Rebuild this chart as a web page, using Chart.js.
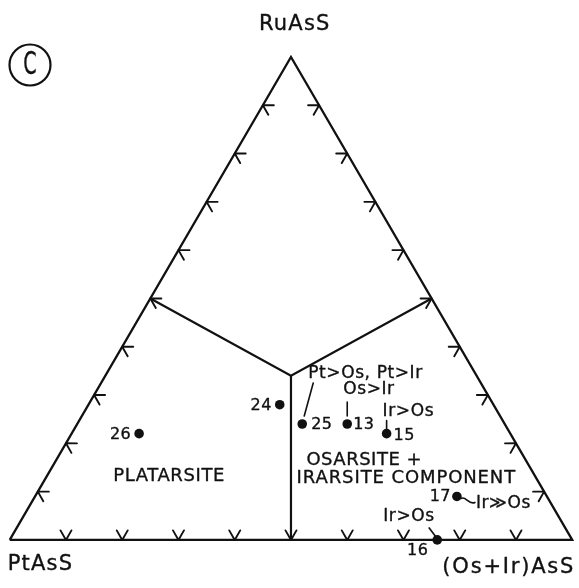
<!DOCTYPE html>
<html lang="en">
<head>
<meta charset="UTF-8">
<title>PtAsS - RuAsS - (Os+Ir)AsS</title>
<script src="https://cdn.jsdelivr.net/npm/chart.js"></script>
<style>
  html, body { margin: 0; padding: 0; background: #fff; }
  #wrap { width: 579px; height: 588px; position: relative; }
</style>
</head>
<body>
<div id="wrap"><canvas id="ternary"></canvas></div>
<script>
// compositions in mol.%  (PtAsS + RuAsS + (Os+Ir)AsS = 100)
const sampleIds = ['26', '24', '25', '13', '15', '17', '16'];
const ptAsS   = [66, 38, 36, 28, 22, 16, 24];
const ruAsS   = [22, 28, 24, 24, 22, 9, 0];
const osIrAsS = [12, 34, 40, 48, 56, 75, 76];
const sampleNotes = ['', '', 'Pt>Os, Pt>Ir', 'Os>Ir', 'Ir>Os', 'Ir\u226BOs', 'Ir>Os'];

const vertexNames = ['PtAsS', '(Os+Ir)AsS', 'RuAsS'];
const tickSteps = [10, 20, 30, 40, 50, 60, 70, 80, 90];
const fieldNames = ['PLATARSITE', 'OSARSITE +', 'IRARSITE COMPONENT'];
// field boundaries: from the 50 % point of each side to this junction
const junction = [33, 34, 33];

// ternary -> cartesian (base along x, RuAsS up)
const tern = (pt, ru, os) => ({ x: (os + ru / 2) / 100, y: ru / 100 });

const FONT = "'DejaVu Sans', sans-serif";
const INK = '#111';

const samplePoints = sampleIds.map((_, i) => tern(ptAsS[i], ruAsS[i], osIrAsS[i]));

const line = (data, width) => ({
  data, showLine: true, borderColor: INK, borderWidth: width,
  pointRadius: 0, tension: 0, fill: false, clip: false
});

const overlay = {
  id: 'overlay',
  afterDatasetsDraw(chart) {
    const { ctx, scales: { x, y } } = chart;
    const at = (pt, ru, os) => {
      const p = tern(pt, ru, os);
      return [x.getPixelForValue(p.x), y.getPixelForValue(p.y)];
    };
    // lettering is drawn a bit heavier than the plain font
    const text = (str, px, py, size, align, spacing) => {
      ctx.font = size + 'px ' + FONT;
      ctx.letterSpacing = (spacing || 0) + 'px';
      ctx.textAlign = align || 'left';
      ctx.textBaseline = 'middle';
      ctx.lineWidth = 0.35;
      ctx.fillText(str, px, py);
      ctx.strokeText(str, px, py);
    };
    const seg = (x1, y1, x2, y2) => {
      ctx.beginPath(); ctx.moveTo(x1, y1); ctx.lineTo(x2, y2); ctx.stroke();
    };

    ctx.save();
    ctx.strokeStyle = INK;
    ctx.fillStyle = INK;
    ctx.lineCap = 'round';
    ctx.lineJoin = 'round';

    // chevron ticks every 10 %, tip on the side, opening inward
    const [cx, cy] = at(100 / 3, 100 / 3, 100 / 3);
    const edges = [
      s => at(100 - s, 0, s),   // base
      s => at(100 - s, s, 0),   // left side
      s => at(0, s, 100 - s)    // right side
    ];
    edges.forEach(edge => {
      const [ax, ay] = edge(0), [bx, by] = edge(100);
      let nx = -(by - ay), ny = bx - ax;
      const len = Math.hypot(nx, ny);
      nx /= len; ny /= len;
      if ((cx - ax) * nx + (cy - ay) * ny < 0) { nx = -nx; ny = -ny; }
      tickSteps.forEach(s => {
        const [tx, ty] = edge(s);
        ctx.lineWidth = 1.9;
        ctx.beginPath();
        const arms = [Math.PI / 6, -Math.PI / 6].map(a => [
          tx + 11 * (nx * Math.cos(a) - ny * Math.sin(a)),
          ty + 11 * (nx * Math.sin(a) + ny * Math.cos(a))
        ]);
        ctx.moveTo(arms[0][0], arms[0][1]);
        ctx.lineTo(tx, ty);
        ctx.lineTo(arms[1][0], arms[1][1]);
        ctx.stroke();
      });
    });

    // corner names
    const [p0x, p0y] = at(100, 0, 0), [p1x, p1y] = at(0, 0, 100), [p2x, p2y] = at(0, 100, 0);
    text(vertexNames[0], p0x - 2, p0y + 25, 21, 'left', 1.2);
    text(vertexNames[1], p1x + 3, p1y + 28, 21, 'right', 1.8);
    text(vertexNames[2], p2x - 32, p2y - 32, 21, 'left', 1.2);

    // field names
    let [fx, fy] = at(75, 13.2, 11.8);
    text(fieldNames[0], fx, fy, 18, 'left', 0.6);
    [fx, fy] = at(39, 16.5, 44.5);
    text(fieldNames[1], fx, fy, 18, 'left', 0.5);
    [fx, fy] = at(42.6, 12.8, 44.6);
    text(fieldNames[2], fx, fy, 18, 'left', 0.9);

    // sample numbers and notes with leaders
    const pts = samplePoints.map(p => [x.getPixelForValue(p.x), y.getPixelForValue(p.y)]);
    const place = {
      '26': { num: [-8, 1, 'right'] },
      '24': { num: [-8, 1, 'right'] },
      '25': { num: [9, 1, 'left'], note: [6, -50], lead: [[11, -41], [2, -8]] },
      '13': { num: [6, 1, 'left'], note: [-4, -34], lead: [[0, -22], [0, -8]] },
      '15': { num: [7, 2, 'left'], note: [-4, -22], lead: [[0, -13], [0, -5]] },
      '17': { num: [-6, 0, 'right'], note: [19, 7] },
      '16': { num: [-9, 11, 'right'], note: [-54, -23], lead: [[-8, -12], [-2, -4]] }
    };
    sampleIds.forEach((id, i) => {
      const [px, py] = pts[i];
      const cfg = place[id];
      text(id, px + cfg.num[0], py + cfg.num[1], 16, cfg.num[2], 0.4);
      if (cfg.note) text(sampleNotes[i], px + cfg.note[0], py + cfg.note[1], 17, 'left', 0.6);
      ctx.lineWidth = 1.6;
      if (cfg.lead) seg(px + cfg.lead[0][0], py + cfg.lead[0][1], px + cfg.lead[1][0], py + cfg.lead[1][1]);
      if (id === '17') {
        ctx.beginPath();
        ctx.moveTo(px + 4, py + 2);
        ctx.bezierCurveTo(px + 9, py - 1, px + 12, py + 9, px + 18, py + 6);
        ctx.stroke();
      }
    });

    // panel letter
    ctx.lineWidth = 2.2;
    ctx.beginPath();
    ctx.arc(30, 65, 20.5, 0, Math.PI * 2);
    ctx.stroke();
    ctx.save();
    ctx.translate(30, 66);
    ctx.scale(0.6, 1);
    text('C', 0, 0, 32, 'center', 0);
    ctx.restore();

    ctx.restore();
  }
};

new Chart(document.getElementById('ternary'), {
  type: 'scatter',
  data: {
    datasets: [
      line([tern(100, 0, 0), tern(0, 0, 100), tern(0, 100, 0), tern(100, 0, 0)], 2.3),
      line([tern(50, 50, 0), tern(...junction), tern(0, 50, 50)], 2.2),
      line([tern(...junction), tern(50, 0, 50)], 2.2),
      {
        data: samplePoints, showLine: false, clip: false,
        pointRadius: 4.8, pointBackgroundColor: INK, pointBorderColor: INK, pointBorderWidth: 0
      }
    ]
  },
  options: {
    responsive: true,
    maintainAspectRatio: false,
    animation: false,
    layout: { padding: 0 },
    plugins: { legend: { display: false }, tooltip: { enabled: false } },
    scales: {
      // base spans 5..577 px, apex at 53 px, base line at 544 px
      x: { type: 'linear', min: -5 / 572, max: 574 / 572, display: false },
      y: { type: 'linear', min: -44 / 491, max: 544 / 491, display: false }
    }
  },
  plugins: [overlay]
});
</script>
</body>
</html>
